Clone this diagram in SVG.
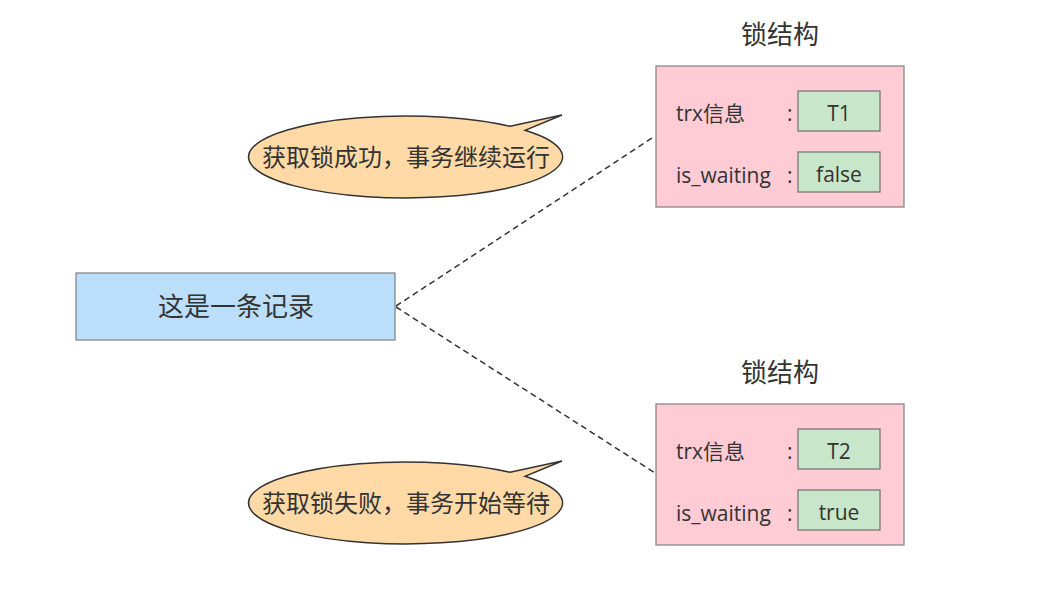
<svg xmlns="http://www.w3.org/2000/svg" width="1041" height="599" viewBox="0 0 1041 599">
<style>
text{font-family:"Open Sans","Noto Sans CJK SC",sans-serif;fill:#333}
.rec{fill:#bbdefb;stroke:#888;stroke-width:1.3}
.lock{fill:#ffccd5;stroke:#888;stroke-width:1.3}
.val{fill:#c8e6c9;stroke:#777;stroke-width:1.3}
.bub{fill:#ffdaa6;stroke:#333;stroke-width:1.5}
.conn{stroke:#333;stroke-width:1.5;stroke-dasharray:6 4;fill:none}
.t26{font-size:26px}
.t24{font-size:24px}
.t21{font-size:21px}
</style>
<rect width="1041" height="599" fill="#fff"/>
<g id="connectors">
<path class="conn" d="M396 306 L655 136"/>
<path class="conn" d="M396 307 L655 473"/>
</g>
<g id="record">
<rect class="rec" x="76" y="273" width="319" height="67"/>
<text class="t26" x="236" y="316" text-anchor="middle">这是一条记录</text>
</g>
<g id="bubble1">
<path class="bub" d="M510 126.3 L562 115 L525 130.3 A157 41 0 1 1 510 126.3 Z"/>
<text class="t24" x="406" y="166" text-anchor="middle">获取锁成功，事务继续运行</text>
</g>
<g id="bubble2">
<path class="bub" d="M510 472.3 L562 461 L525 476.3 A157 41 0 1 1 510 472.3 Z"/>
<text class="t24" x="406" y="512" text-anchor="middle">获取锁失败，事务开始等待</text>
</g>
<g id="lock1">
<text class="t26" x="780" y="44" text-anchor="middle">锁结构</text>
<rect class="lock" x="656" y="66" width="248" height="141"/>
<text class="t21" x="676" y="121">trx信息</text>
<text class="t21" x="787" y="121">:</text>
<rect class="val" x="798" y="91" width="82" height="40"/>
<text class="t21" x="839" y="121" text-anchor="middle">T1</text>
<text class="t21" x="676" y="183">is_waiting</text>
<text class="t21" x="787" y="183">:</text>
<rect class="val" x="798" y="152" width="82" height="40"/>
<text class="t21" x="839" y="182" text-anchor="middle">false</text>
</g>
<g id="lock2">
<text class="t26" x="780" y="382" text-anchor="middle">锁结构</text>
<rect class="lock" x="656" y="404" width="248" height="141"/>
<text class="t21" x="676" y="459">trx信息</text>
<text class="t21" x="787" y="459">:</text>
<rect class="val" x="798" y="429" width="82" height="40"/>
<text class="t21" x="839" y="459" text-anchor="middle">T2</text>
<text class="t21" x="676" y="521">is_waiting</text>
<text class="t21" x="787" y="521">:</text>
<rect class="val" x="798" y="490" width="82" height="40"/>
<text class="t21" x="839" y="520" text-anchor="middle">true</text>
</g>
</svg>
